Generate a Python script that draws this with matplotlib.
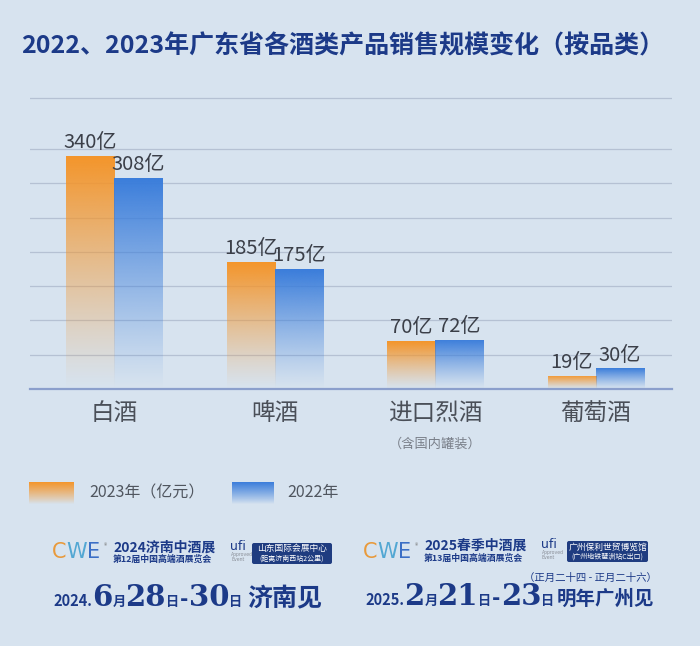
import numpy as np
import matplotlib
matplotlib.use('Agg')
import matplotlib.pyplot as plt
from matplotlib.colors import to_rgb
from matplotlib.patches import FancyBboxPatch

plt.rcParams['font.family'] = ['Noto Sans CJK SC', 'DejaVu Sans']

# data
categories = ['白酒', '啤酒', '进口烈酒', '葡萄酒']
sales_2023 = [340, 185, 70, 19]
sales_2022 = [308, 175, 72, 30]
series_names = ['2023年（亿元）', '2022年']
note = '（含国内罐装）'
title = '2022、2023年广东省各酒类产品销售规模变化（按品类）'
gridlines = [50, 100, 150, 200, 250, 300, 350, 425]

BG = '#d7e3ef'
ORANGE = '#f4952a'
BLUE = '#3a7ddb'
NAVY = '#1c3a88'
BOXC = '#1f3c80'


def grad(color, n=256, p=1.15):
    # vertical fade: transparent at bottom, solid at top
    img = np.zeros((n, 1, 4))
    img[..., :3] = to_rgb(color)
    img[:, 0, 3] = np.linspace(0, 1, n) ** p
    return img


fig = plt.figure(figsize=(7, 6.46), dpi=100, facecolor=BG)
ax = fig.add_axes([30/700, (646-389)/646, 642/700, (389-94.4)/646])
ax.set_facecolor('none')

x = np.arange(len(categories))
w = 0.3
for vals, col, off in [(sales_2023, ORANGE, -w/2), (sales_2022, BLUE, w/2)]:
    bars = ax.bar(x + off, vals, w, color='none', edgecolor='none', zorder=3)
    for b, v in zip(bars, vals):
        im = ax.imshow(grad(col), extent=[b.get_x(), b.get_x() + b.get_width(), 0, v],
                       origin='lower', aspect='auto', interpolation='bilinear', zorder=3)
        im.set_clip_path(b)
        ax.annotate(f'{v}亿', (b.get_x() + b.get_width()/2, v), xytext=(0, 2),
                    textcoords='offset points', ha='center', va='bottom',
                    fontsize=14.5, color='#3b3f48', fontweight='light', zorder=4)

for g in gridlines:
    ax.axhline(g, color='#b5c1d3', lw=0.9, zorder=1)
ax.axhline(0, color='#8b9fcc', lw=1.6, zorder=4, clip_on=False)

ax.set_xlim(-0.526, 3.476)
ax.set_ylim(0, 430)
ax.set_xticks(x, categories, fontsize=17, color='#4a4f58')
ax.tick_params(length=0, pad=9)
ax.set_yticks([])
for s in ax.spines.values():
    s.set_visible(False)
ax.annotate(note, (2, 0), xytext=(0, -40), textcoords='offset points',
            ha='center', va='center', fontsize=9.5, color='#7a808a')

# overlay in pixel coords for title, legend and banner
ov = fig.add_axes([0, 0, 1, 1])
ov.axis('off')

ov.text(343, 46, title, ha='center', va='center', fontsize=18,
        fontweight='bold', color=NAVY)

# legend
for (x0, x1, col, lab, lx) in [(29, 74, ORANGE, series_names[0], 89),
                                (232, 274, BLUE, series_names[1], 287)]:
    ov.imshow(grad(col, p=0.9), extent=[x0, x1, 504, 482], origin='lower',
              aspect='auto', interpolation='bilinear')
    ov.text(lx, 493, lab, ha='left', va='center', fontsize=11.5, color='#50565f')

ov.set_xlim(0, 700)
ov.set_ylim(646, 0)

renderer = fig.canvas.get_renderer()


def run(x0, y0, pieces):
    for s, kw in pieces:
        kw = dict(kw)
        dx = kw.pop('dx', 0)
        x0 += dx
        t = ov.text(x0, y0, s, ha='left', va='baseline', color=NAVY, **kw)
        x0 += t.get_window_extent(renderer).width
    return x0


narrow = dict(fontweight='bold', fontsize=10.5)
big = dict(family=['DejaVu Serif'], fontweight='bold', fontsize=21)
small = dict(fontweight='bold', fontsize=9.5)
dash = dict(fontweight='bold', fontsize=16, dx=1)


def cwe(x0, y0):
    for s, c in [('C', '#e89a3c'), ('W', '#52a7d3'), ('E', '#3b6fc6')]:
        t = ov.text(x0, y0, s, ha='left', va='baseline', color=c, fontsize=15,
                    family=['DejaVu Sans'])
        x0 += t.get_window_extent(renderer).width
    ov.text(x0 + 4, y0 - 12, '®', fontsize=5, color='#777777', ha='left', va='center')


def badge(x0, y0, w, h, l1, l2):
    ov.add_patch(FancyBboxPatch((x0, y0), w, h, boxstyle='round,pad=0,rounding_size=2',
                                fc=BOXC, ec='none'))
    ov.text(x0 + w/2, y0 + 6, l1, ha='center', va='center', fontsize=6.3, color='white')
    ov.text(x0 + w/2, y0 + 15.5, l2, ha='center', va='center', fontsize=5, color='white')


def ufi(x0, y0):
    ov.text(x0, y0, 'ufi', ha='left', va='center', fontsize=9, color=NAVY,
            family=['DejaVu Sans'])
    ov.text(x0 + 1, y0 + 11, 'Approved\nEvent', ha='left', va='center', fontsize=3.3,
            color='#8a8f98', family=['DejaVu Sans'], linespacing=1.0)


# left banner
cwe(52, 558)
ov.text(113, 548, '2024济南中酒展', ha='left', va='center', fontsize=10,
        fontweight='bold', color=NAVY)
ov.text(113, 559, '第12届中国高端酒展览会', ha='left', va='center', fontsize=6.4,
        fontweight='bold', color=NAVY)
ufi(230, 546)
badge(252, 543, 80, 21, '山东国际会展中心', '(距离济南西站2公里)')
run(53, 606, [('2024.', narrow), ('6', big), ('月', small), ('28', big),
              ('日', small), ('-', dash), ('30', big), ('日', small),
              ('济南见', dict(fontweight='bold', fontsize=18, dx=5))])

# right banner
cwe(363, 558)
ov.text(424, 546, '2025春季中酒展', ha='left', va='center', fontsize=10,
        fontweight='bold', color=NAVY)
ov.text(424, 558, '第13届中国高端酒展览会', ha='left', va='center', fontsize=6.4,
        fontweight='bold', color=NAVY)
ufi(541, 544)
badge(567, 541, 81, 21, '广州保利世贸博览馆', '(广州地铁琶洲站C出口)')
ov.text(590, 578, '（正月二十四 - 正月二十六）', ha='center', va='center',
        fontsize=7.5, color=NAVY)
run(365, 605, [('2025.', narrow), ('2', big), ('月', small), ('21', big),
               ('日', small), ('-', dash), ('23', big), ('日', small),
               ('明年广州见', dict(fontweight='bold', fontsize=14, dx=2))])

fig.savefig('out.png', dpi=100, facecolor=BG)
